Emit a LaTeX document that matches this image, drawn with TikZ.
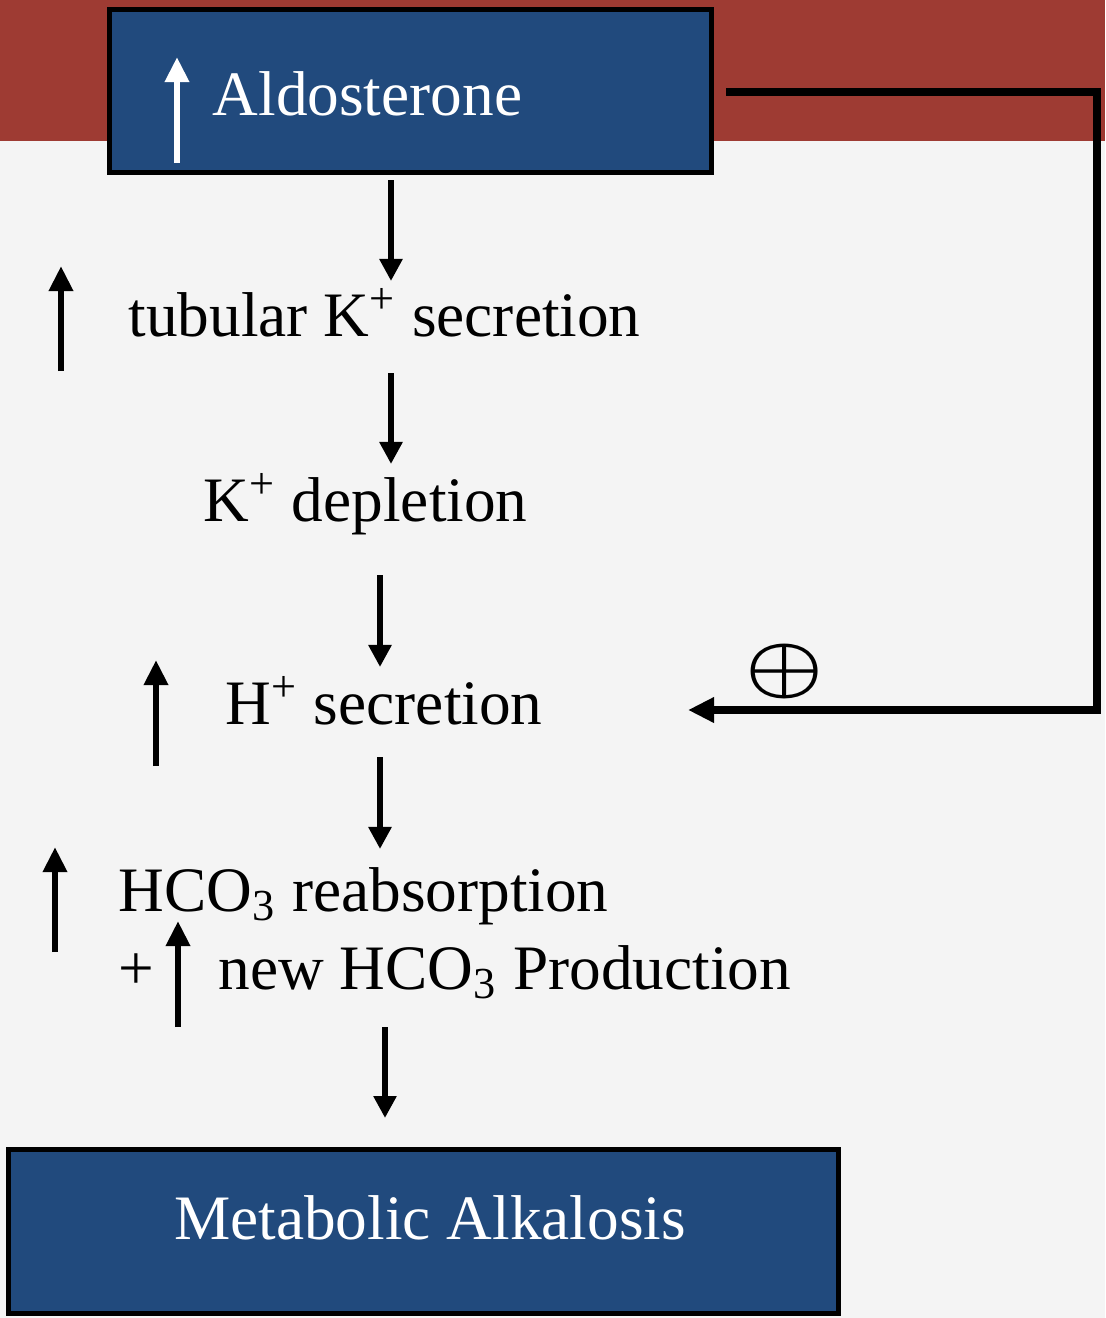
\documentclass[tikz,border=0pt]{standalone}
\usepackage{amsmath}
\usepackage{fontspec}
\setmainfont{Liberation Serif}
\usetikzlibrary{arrows.meta}
\definecolor{bandred}{HTML}{9E3B33}
\definecolor{boxblue}{HTML}{214A7D}
\definecolor{paper}{HTML}{F4F4F4}

\begin{document}
\begin{tikzpicture}[
		x=0.01cm,y=-0.01cm,
		font=\fontsize{18}{22}\selectfont,
		bluebox/.style={draw=black,line width=1.4pt,fill=boxblue,inner sep=0pt},
		lbl/.style={anchor=base west,inner sep=0pt},
		dn/.style={-{Triangle[length=2.2mm,width=2.2mm]},line width=1.7pt},
		up/.style={-{Triangle[length=2.5mm,width=2.3mm]},line width=1.8pt},
		fb/.style={-{Triangle[length=2.6mm,width=2.4mm]},line width=2pt}
		]

		% page and title band
		\fill[paper] (0,0) rectangle (1105,1318);
		\fill[bandred] (0,0) rectangle (1105,141);

		\node[bluebox,minimum width=6.02cm,minimum height=1.63cm] (aldo) at (410.5,91) {};
		\node[lbl,text=white] (aldotxt) at (212,115) {Aldosterone};
		\draw[up,white] (177,163) -- (177,57);

		\node[lbl] (ksec) at (128,336) {tubular K\textsuperscript{+} secretion};
		\node[lbl] (kdep) at (203,521) {K\textsuperscript{+} depletion};
		\node[lbl] (hsec) at (225,724) {H\textsuperscript{+} secretion};
		\node[lbl] (reab) at (118,911) {HCO\textsubscript{3} reabsorption};
		\node[lbl] (plus) at (118,989) {+};
		\node[lbl] (newb) at (218,989) {new HCO\textsubscript{3} Production};

		\node[bluebox,minimum width=8.30cm,minimum height=1.64cm] (alk) at (423.5,1231.5) {};
		\node[anchor=base,inner sep=0pt,text=white] (alktxt) at (430,1239) {Metabolic Alkalosis};

		% increase marks
		\draw[up] (61,371) -- (61,266);
		\draw[up] (156,766) -- (156,660);
		\draw[up] (55,952) -- (55,847);
		\draw[up] (178,1027) -- (178,921);

		% chain
		\coordinate (s1) at (391,180);  \coordinate (e1) at (391,281);
		\coordinate (s2) at (391,373);  \coordinate (e2) at (391,464);
		\coordinate (s3) at (380,575);  \coordinate (e3) at (380,667);
		\coordinate (s4) at (380,757);  \coordinate (e4) at (380,849);
		\coordinate (s5) at (385,1027); \coordinate (e5) at (385,1118);
		\draw[dn] (s1)--(e1);
		\draw[dn] (s2)--(e2);
		\draw[dn] (s3)--(e3);
		\draw[dn] (s4)--(e4);
		\draw[dn] (s5)--(e5);

		% feedback loop
		\coordinate (fbend) at (688,710);
		\draw[fb] ([xshift=0.12cm,yshift=-0.01cm]aldo.east) -| (1097,710) -- (fbend);
		\node[font=\fontsize{27}{27}\selectfont,inner sep=0pt] (pos) at (785,672) {\scalebox{1}[0.82]{$\boldsymbol{\oplus}$}};

	\end{tikzpicture}
\end{document}
